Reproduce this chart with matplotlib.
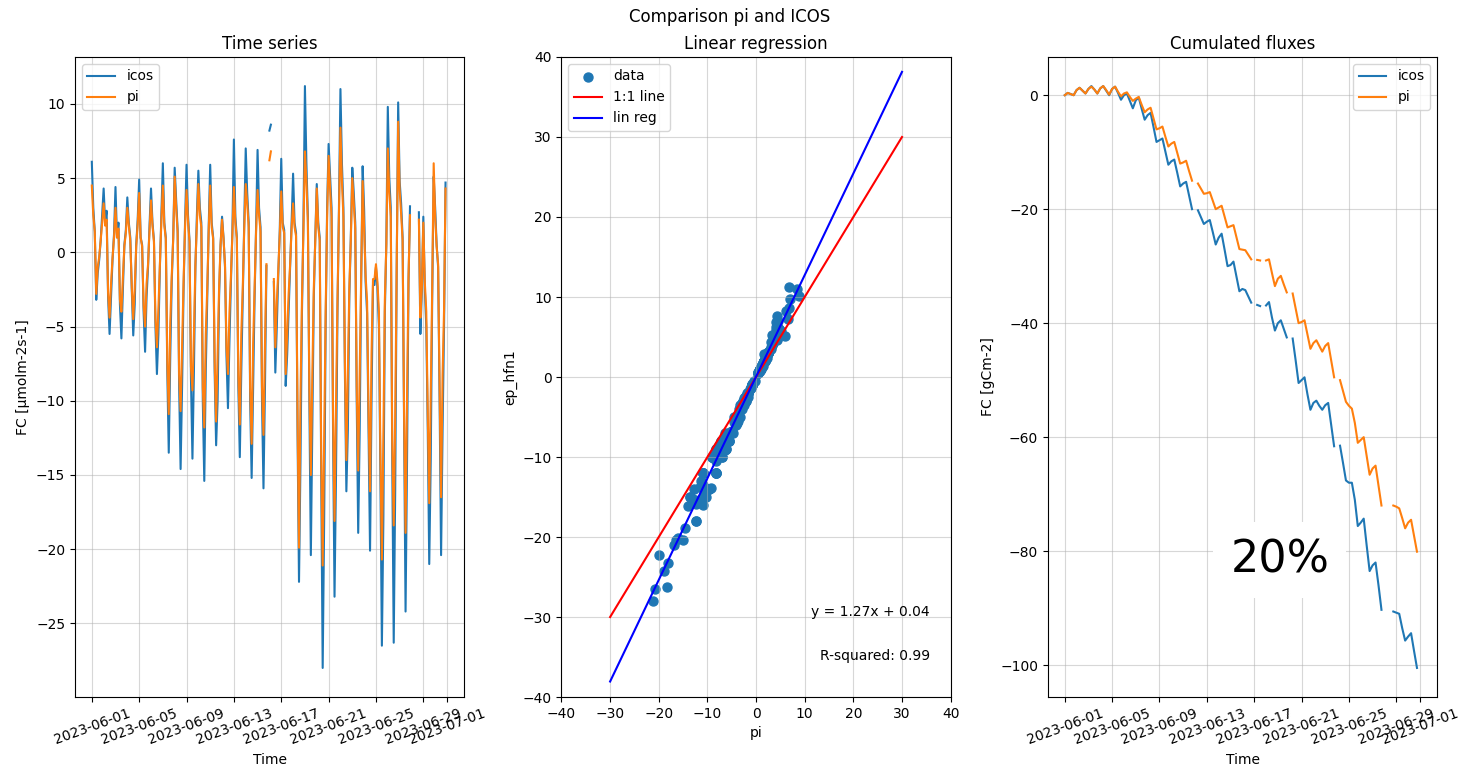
import numpy as np
import pandas as pd
import matplotlib
matplotlib.use("Agg")
import matplotlib.pyplot as plt
import matplotlib.dates as mdates

nan = np.nan

# ---------------- data ----------------
start_date = "2023-06-01"
flux_step_hours = 3      # time-series sampling (0,3,...,21 h)
cum_step_hours = 6       # cumulative sampling (0,6,12,18 h)

# FC icos [umol m-2 s-1], one line per day
icos_flux = [
    6.1, 3.0, 1.4, -3.2, -1.4, -0.5, 0.8, 2.5,
    4.3, 2.0, 2.8, -3.0, -5.5, -3.0, -0.5, 1.2,
    4.4, 1.0, 2.0, -3.5, -5.8, -2.5, 0.5, 1.5,
    3.7, 2.0, 1.0, -2.5, -5.6, -3.5, 0.5, 2.2,
    4.9, 1.0, 0.5, -4.0, -6.7, -3.0, -1.0, 1.8,
    4.3, 2.0, 0.8, -5.0, -8.2, -5.5, -1.0, 2.5,
    6.0, 2.0, 1.0, -8.0, -13.5, -7.0, -2.0, 1.0,
    5.7, 3.5, 1.5, -9.0, -14.6, -9.0, -2.5, 2.0,
    5.9, 2.5, 0.8, -8.5, -13.9, -8.0, -1.0, 2.5,
    5.5, 3.0, 2.0, -10.0, -15.4, -8.0, -3.0, 1.8,
    5.9, 2.0, 1.0, -8.0, -13.0, -10.0, -3.0, 0.5,
    2.4, 1.0, -1.0, -7.0, -10.5, -6.0, -2.0, 1.5,
    7.6, 2.4, 1.0, -9.0, -13.8, -8.0, -3.0, 2.0,
    7.0, 4.0, 2.0, -10.0, -15.2, -9.0, -3.0, 1.7,
    6.9, 3.0, 1.7, -10.0, -15.9, -9.1, -0.9, nan,
    8.2, 8.6, nan, -2.0, -8.1, -5.0, -1.5, 1.5,
    6.3, 2.0, 1.5, -9.0, -6.9, -4.0, -1.0, 2.0,
    5.3, 2.0, 1.3, -12.0, -22.2, -14.0, -4.0, 2.0,
    11.2, 6.0, 2.4, -10.0, -20.4, -12.0, -3.0, 1.0,
    4.6, 2.0, 1.0, -15.0, -28.0, -18.0, -5.0, 3.0,
    7.3, 5.1, 3.0, -12.0, -23.2, -15.0, -4.0, 3.0,
    11.0, 6.0, 3.0, -8.0, -16.1, -12.0, -3.0, 1.0,
    5.7, 4.0, 2.0, -10.0, -18.9, -12.0, -2.0, 5.8,
    2.9, -2.0, -4.1, -12.0, -20.1, -10.0, -2.2, -2.2,
    -1.0, -2.4, -5.0, -15.0, -26.5, -18.0, -4.0, 0.6,
    9.8, 5.0, 3.0, -14.0, -26.3, -16.0, -1.2, 10.1,
    4.8, 3.3, 1.0, -12.0, -24.2, -14.0, -2.0, 3.1,
    nan, nan, nan, nan, nan, 2.7, -5.5, -2.6,
    2.4, -2.4, -5.0, -12.0, -21.0, -14.0, -3.0, 5.1,
    3.0, 0.5, -1.0, -10.0, -20.4, -12.0, -5.0, 4.7,
]

# FC pi [umol m-2 s-1]
pi_flux = [
    4.5, 2.5, 1.4, -2.8, -1.0, -0.3, 0.8, 2.0,
    3.3, 1.8, 2.2, -2.7, -4.4, -2.1, -0.4, 1.0,
    3.0, 1.0, 1.6, -3.2, -4.0, -1.7, 0.4, 1.3,
    3.0, 1.8, 0.8, -2.3, -4.5, -2.4, 0.4, 1.9,
    4.0, 1.0, 0.4, -3.6, -5.0, -2.1, -0.8, 1.5,
    3.5, 1.8, 0.7, -4.5, -6.4, -3.8, -0.8, 2.1,
    4.5, 1.8, 0.9, -7.3, -10.9, -4.8, -1.6, 0.9,
    5.1, 3.0, 1.3, -8.2, -10.7, -6.2, -2.0, 1.7,
    4.2, 2.1, 0.7, -7.7, -9.3, -5.5, -0.8, 2.0,
    4.6, 2.5, 1.7, -9.1, -11.8, -5.5, -2.4, 1.5,
    4.5, 1.7, 0.9, -7.3, -11.4, -6.9, -2.4, 0.5,
    2.2, 0.9, -0.8, -6.4, -8.2, -4.1, -1.6, 1.2,
    4.4, 2.0, 0.9, -8.2, -11.6, -5.5, -2.4, 1.6,
    4.6, 3.3, 1.7, -9.1, -12.9, -6.2, -2.4, 1.4,
    4.2, 2.5, 1.4, -9.1, -12.3, -6.3, -0.8, nan,
    6.2, 6.8, nan, -1.8, -6.4, -3.4, -1.2, 1.2,
    4.1, 1.7, 1.3, -8.2, -5.4, -2.8, -0.8, 1.6,
    3.3, 1.7, 1.1, -10.9, -19.9, -9.7, -3.2, 1.6,
    6.8, 4.8, 2.0, -9.1, -15.0, -8.3, -2.4, 0.8,
    4.3, 1.7, 0.8, -13.6, -21.1, -12.4, -4.0, 2.4,
    6.5, 4.3, 2.4, -10.9, -18.1, -10.3, -3.2, 2.4,
    8.4, 4.8, 2.4, -7.3, -14.0, -8.3, -2.4, 0.8,
    5.0, 3.3, 1.6, -9.1, -14.7, -8.3, -1.6, 4.8,
    1.7, -1.6, -3.3, -10.9, -16.1, -6.9, -1.8, -1.8,
    -0.8, -2.0, -4.0, -13.6, -20.7, -12.4, -3.2, 0.5,
    7.0, 4.0, 2.4, -12.7, -18.4, -11.0, -1.0, 8.8,
    4.2, 2.6, 0.8, -10.9, -18.9, -9.7, -1.6, 2.5,
    nan, nan, nan, nan, nan, 2.2, -4.4, -2.4,
    2.0, -2.0, -4.0, -10.9, -16.9, -9.7, -2.4, 6.0,
    2.4, 0.4, -0.8, -9.1, -16.5, -8.3, -3.9, 4.3,
]

# cumulated fluxes [gC m-2], one line per day
icos_cum = [
    0.0, 0.4, 0.2, 0.0,
    0.9, 1.3, 0.8, 0.3,
    1.1, 1.6, 1.0, 0.3,
    1.2, 1.6, 0.8, 0.0,
    1.1, 1.5, 0.4, -0.8,
    0.0, 0.3, -1.0, -2.3,
    -0.9, -0.4, -2.4, -4.3,
    -3.5, -3.1, -5.6, -8.2,
    -7.9, -7.6, -9.9, -12.2,
    -11.6, -11.3, -13.6, -16.0,
    -15.5, -15.2, -17.6, -20.0,
    nan, -20.2, -21.4, -22.6,
    -22.2, -21.9, -24.0, -26.2,
    -25.0, -24.3, -27.1, -30.0,
    -29.8, -29.2, -31.8, -34.4,
    -34.0, -34.2, -35.3, -36.4,
    nan, -36.8, -37.0, nan,
    -36.9, -36.3, -39.0, -41.3,
    -40.0, -39.5, -41.0, -42.5,
    nan, -42.7, -46.5, -50.5,
    -50.0, -49.5, -52.5, -55.2,
    -54.0, -53.6, -54.5, -55.2,
    -54.4, -54.0, -57.8, -61.6,
    nan, -61.5, -64.5, -67.6,
    -68.0, -68.0, -71.0, -75.6,
    -75.0, -74.3, -79.0, -83.5,
    -82.5, -82.0, -86.0, -90.3,
    nan, nan, nan, -90.6,
    -90.8, -91.0, -93.5, -95.7,
    -95.0, -94.4, -97.5, -100.5,
]

pi_cum = [
    0.0, 0.4, 0.2, 0.0,
    0.9, 1.3, 0.8, 0.3,
    1.1, 1.5, 1.0, 0.3,
    1.2, 1.6, 0.9, 0.1,
    1.1, 1.5, 0.6, -0.2,
    0.3, 0.5, -0.3, -1.0,
    -0.6, -0.3, -1.7, -3.0,
    -2.5, -2.2, -4.1, -6.0,
    -5.8, -5.5, -7.3, -9.0,
    -8.5, -8.2, -10.1, -12.0,
    -11.8, -11.5, -13.3, -15.0,
    nan, -15.5, -16.4, -17.3,
    -17.2, -17.0, -18.5, -20.0,
    -19.7, -19.4, -21.3, -23.2,
    -23.0, -22.8, -24.9, -27.0,
    -27.1, -27.2, -28.0, -28.8,
    nan, -28.9, -29.0, nan,
    -29.0, -28.8, -31.2, -33.5,
    -32.2, -31.7, -33.2, -34.6,
    nan, -34.8, -37.4, -40.0,
    -39.8, -39.5, -42.0, -44.5,
    -43.5, -43.0, -44.0, -45.0,
    -44.0, -43.5, -46.5, -49.5,
    nan, -50.0, -51.9, -53.8,
    -54.5, -55.0, -57.5, -61.0,
    -60.5, -60.0, -63.3, -66.6,
    -65.5, -65.0, -68.5, -72.0,
    nan, nan, nan, -72.0,
    -72.2, -72.5, -74.2, -76.0,
    -75.0, -74.5, -77.3, -80.1,
]

reg_slope = 1.27
reg_intercept = 0.04
r_squared = 0.99
line_x = [-30, 30]

# ---------------- figure ----------------
t0 = pd.Timestamp(start_date)
flux_time = (t0 + pd.to_timedelta(np.arange(len(icos_flux)) * flux_step_hours, unit="h")).to_pydatetime()
cum_time = (t0 + pd.to_timedelta(np.arange(len(icos_cum)) * cum_step_hours, unit="h")).to_pydatetime()

fig, (ax1, ax2, ax3) = plt.subplots(1, 3, figsize=(14.59, 7.68), dpi=100)
fig.subplots_adjust(left=0.0514, right=0.985, top=0.9258, bottom=0.0924, wspace=0.25)
fig.suptitle("Comparison pi and ICOS", y=0.99)

xlim = (t0 - pd.Timedelta(days=1.42), t0 + pd.Timedelta(days=31.45))

# time series
ax1.plot(flux_time, icos_flux, color="tab:blue", label="icos")
ax1.plot(flux_time, pi_flux, color="tab:orange", label="pi")
ax1.set_title("Time series")
ax1.set_xlabel("Time")
ax1.set_ylabel("FC [µmolm-2s-1]")
ax1.legend(loc="upper left")

# regression
pi_arr = np.array(pi_flux)
icos_arr = np.array(icos_flux)
ok = ~np.isnan(pi_arr) & ~np.isnan(icos_arr)
ax2.scatter(pi_arr[ok], icos_arr[ok], s=42, color="tab:blue", label="data")
ax2.plot(line_x, line_x, color="red", label="1:1 line")
ax2.plot(line_x, [reg_slope * v + reg_intercept for v in line_x], color="blue", label="lin reg")
ax2.set_xlim(-40, 40)
ax2.set_ylim(-40, 40)
ax2.set_title("Linear regression")
ax2.set_xlabel("pi")
ax2.set_ylabel("ep_hfn1")
ax2.legend(loc="upper left")
ax2.text(0.947, 0.133, f"y = {reg_slope:.2f}x + {reg_intercept:.2f}", transform=ax2.transAxes,
         ha="right", va="center", fontsize=10)
ax2.text(0.947, 0.064, f"R-squared: {r_squared:.2f}", transform=ax2.transAxes,
         ha="right", va="center", fontsize=10)

# cumulated
ax3.plot(cum_time, icos_cum, color="tab:blue", label="icos")
ax3.plot(cum_time, pi_cum, color="tab:orange", label="pi")
ax3.set_title("Cumulated fluxes")
ax3.set_xlabel("Time")
ax3.set_ylabel("FC [gCm-2]")
ax3.legend(loc="upper right")
ax3.text(0.596, 0.214, "20%", transform=ax3.transAxes, ha="center", va="center",
         fontsize=32, bbox=dict(facecolor="white", edgecolor="none", pad=12))

for ax in (ax1, ax3):
    ax.set_xlim(*xlim)
    ax.xaxis.set_major_locator(mdates.DayLocator(bymonthday=[1, 5, 9, 13, 17, 21, 25, 29]))
    ax.xaxis.set_major_formatter(mdates.DateFormatter("%Y-%m-%d"))
    ax.tick_params(axis="x", labelrotation=20)

for ax in (ax1, ax2, ax3):
    ax.grid(True, alpha=0.5)

fig.savefig("out.png", dpi=100)
